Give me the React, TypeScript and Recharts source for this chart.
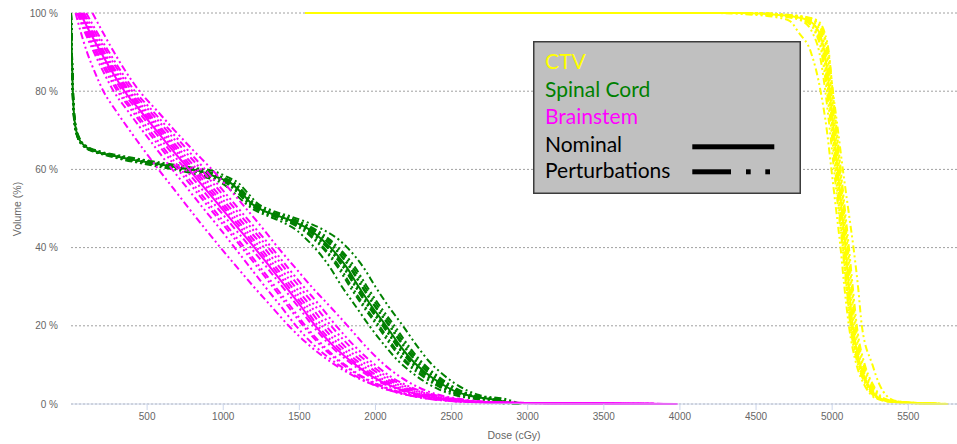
import React from 'react';
import { LineChart, Line, XAxis, YAxis, CartesianGrid, Legend, Label } from 'recharts';

// ---------- axis ticks ----------
const DOSE_TICKS = [500, 1000, 1500, 2000, 2500, 3000, 3500, 4000, 4500, 5000, 5500];
const VOLUME_TICKS = [0, 20, 40, 60, 80, 100];

// ---------- CTV (dose in cGy at each volume level, %) ----------
const CTV_VOLUME = [100, 100, 99.5, 99, 98, 95, 90, 80, 70, 60, 50, 40, 30, 20, 10, 5, 2, 1, 0.5, 0.2, 0];
const CTV_NOMINAL = [1541, 4400, 4650, 4760, 4850, 4915, 4950, 4983, 5010, 5036, 5062, 5088, 5110, 5135, 5185, 5235, 5290, 5340, 5420, 5560, 5740];
const CTV_PERT_1 = [1541, 4200, 4500, 4620, 4720, 4780, 4860, 4924, 4965, 4995, 5025, 5055, 5080, 5110, 5160, 5210, 5265, 5320, 5400, 5540, 5700];
const CTV_PERT_2 = [1541, 4350, 4600, 4720, 4820, 4890, 4930, 4965, 4995, 5020, 5045, 5070, 5095, 5120, 5170, 5220, 5275, 5330, 5410, 5550, 5720];
const CTV_PERT_3 = [1541, 4450, 4690, 4800, 4880, 4935, 4965, 4995, 5022, 5048, 5075, 5100, 5125, 5150, 5200, 5250, 5305, 5355, 5440, 5580, 5750];
const CTV_PERT_4 = [1541, 4480, 4720, 4830, 4905, 4950, 4978, 5003, 5030, 5056, 5083, 5110, 5135, 5162, 5215, 5268, 5320, 5370, 5460, 5600, 5760];
const CTV_PERT_5 = [1541, 4420, 4680, 4800, 4885, 4940, 4975, 5005, 5038, 5070, 5105, 5140, 5170, 5195, 5265, 5310, 5360, 5400, 5480, 5620, 5770];
const CTV_PERT_6 = [1541, 4300, 4580, 4700, 4800, 4870, 4915, 4955, 4985, 5012, 5040, 5068, 5092, 5122, 5175, 5230, 5290, 5345, 5430, 5570, 5730];
const CTV_PERT_7 = [1541, 4380, 4630, 4750, 4840, 4905, 4945, 4975, 5005, 5030, 5056, 5082, 5105, 5130, 5180, 5232, 5288, 5340, 5425, 5565, 5745];
const CTV_PERT_8 = [1541, 4420, 4670, 4780, 4865, 4925, 4958, 4990, 5017, 5043, 5069, 5095, 5118, 5143, 5193, 5243, 5298, 5348, 5430, 5570, 5745];
const CTV_PERT_9 = [1541, 4390, 4640, 4750, 4842, 4908, 4942, 4976, 5003, 5028, 5054, 5080, 5102, 5127, 5177, 5228, 5283, 5335, 5415, 5555, 5735];
const CTV_PERT_10 = [1541, 4460, 4700, 4812, 4892, 4942, 4970, 4998, 5026, 5052, 5079, 5105, 5130, 5156, 5208, 5260, 5312, 5362, 5450, 5590, 5755];
const CTV_PERT_11 = [1541, 4340, 4610, 4730, 4828, 4895, 4935, 4970, 5000, 5025, 5050, 5076, 5100, 5126, 5178, 5230, 5285, 5338, 5420, 5560, 5730];

// ---------- Spinal Cord ----------
const CORD_VOLUME = [100, 90, 80, 72, 68, 66, 64.5, 63.5, 62.5, 61.5, 60.5, 59.5, 58, 56.5, 54, 51.5, 49.5, 48, 46.5, 44.5, 42, 40, 35, 30, 25, 20, 15, 11, 8, 5.3, 3.5, 2.3, 1, 0.3, 0];
const CORD_NOMINAL = [0, 5, 12, 25, 50, 90, 170, 280, 400, 550, 700, 850, 960, 1050, 1120, 1180, 1260, 1370, 1470, 1570, 1650, 1705, 1810, 1890, 1975, 2070, 2160, 2245, 2330, 2428, 2510, 2600, 2800, 2880, 2930];
const CORD_PERT_1 = [0, 4, 10, 22, 45, 80, 150, 240, 340, 470, 600, 740, 880, 990, 1070, 1140, 1210, 1300, 1390, 1480, 1550, 1600, 1700, 1780, 1870, 1960, 2060, 2150, 2240, 2340, 2430, 2520, 2700, 2800, 2860];
const CORD_PERT_2 = [0, 5, 11, 24, 48, 85, 160, 265, 380, 520, 660, 810, 930, 1030, 1100, 1165, 1240, 1340, 1440, 1535, 1610, 1660, 1765, 1845, 1930, 2025, 2115, 2200, 2290, 2390, 2475, 2570, 2770, 2860, 2910];
const CORD_PERT_3 = [0, 6, 13, 26, 52, 95, 180, 300, 430, 580, 740, 890, 990, 1070, 1135, 1195, 1285, 1400, 1500, 1600, 1690, 1745, 1850, 1930, 2015, 2110, 2200, 2285, 2370, 2465, 2545, 2630, 2830, 2900, 2940];
const CORD_PERT_4 = [0, 6, 14, 28, 56, 100, 200, 330, 470, 630, 790, 940, 1030, 1100, 1160, 1220, 1320, 1440, 1550, 1660, 1760, 1815, 1920, 2000, 2085, 2180, 2270, 2350, 2430, 2520, 2600, 2680, 2880, 2930, 2960];
const CORD_PERT_5 = [0, 5, 12, 25, 50, 92, 175, 290, 410, 565, 720, 870, 975, 1060, 1125, 1185, 1270, 1385, 1480, 1585, 1670, 1725, 1830, 1910, 1995, 2090, 2180, 2265, 2350, 2445, 2525, 2615, 2815, 2890, 2935];
const CORD_PERT_6 = [0, 5, 12, 24, 49, 88, 165, 270, 390, 535, 680, 830, 945, 1040, 1110, 1170, 1250, 1355, 1455, 1555, 1630, 1685, 1790, 1870, 1955, 2050, 2140, 2225, 2315, 2410, 2495, 2585, 2785, 2870, 2920];
const CORD_PERT_7 = [0, 4, 11, 23, 47, 86, 165, 275, 395, 540, 690, 840, 955, 1045, 1115, 1175, 1255, 1365, 1465, 1560, 1640, 1695, 1800, 1880, 1965, 2060, 2150, 2235, 2320, 2420, 2500, 2590, 2790, 2875, 2925];
const CORD_PERT_8 = [0, 5, 12, 25, 51, 91, 172, 285, 410, 560, 712, 862, 970, 1058, 1128, 1188, 1270, 1382, 1485, 1588, 1672, 1728, 1835, 1915, 2000, 2095, 2185, 2268, 2352, 2448, 2528, 2615, 2812, 2888, 2935];
const CORD_PERT_9 = [0, 5, 12, 24, 49, 88, 166, 272, 392, 540, 690, 840, 950, 1042, 1112, 1172, 1250, 1358, 1456, 1552, 1630, 1684, 1788, 1868, 1952, 2048, 2138, 2222, 2308, 2408, 2492, 2585, 2788, 2872, 2922];
const CORD_PERT_10 = [0, 6, 13, 26, 53, 96, 185, 305, 435, 588, 745, 895, 995, 1075, 1140, 1200, 1290, 1408, 1510, 1612, 1702, 1758, 1865, 1945, 2030, 2125, 2215, 2298, 2382, 2475, 2555, 2640, 2840, 2905, 2945];
const CORD_PERT_11 = [0, 4, 11, 23, 46, 84, 158, 258, 372, 508, 650, 800, 920, 1020, 1095, 1158, 1232, 1330, 1428, 1522, 1598, 1650, 1752, 1832, 1918, 2012, 2102, 2188, 2278, 2378, 2465, 2560, 2760, 2855, 2905];

// ---------- Brainstem ----------
const STEM_VOLUME = [100, 95, 90, 85, 80, 75, 70, 65, 60, 55, 50, 45, 40, 35, 30, 25, 20, 15, 10, 7, 4.5, 2.5, 1.5, 0.8, 0.4, 0.2, 0.1, 0];
const STEM_NOMINAL = [60, 125, 195, 270, 352, 455, 560, 665, 775, 882, 990, 1098, 1205, 1308, 1410, 1510, 1605, 1720, 1870, 1980, 2110, 2270, 2400, 2550, 2750, 3100, 3500, 3980];
const STEM_PERT_1 = [30, 65, 105, 155, 213, 295, 385, 478, 575, 675, 775, 877, 982, 1090, 1200, 1315, 1430, 1565, 1735, 1865, 2015, 2185, 2325, 2485, 2695, 3000, 3300, 3600];
const STEM_PERT_2 = [141, 210, 282, 360, 450, 565, 680, 800, 925, 1040, 1150, 1258, 1360, 1470, 1580, 1700, 1817, 1930, 2060, 2160, 2270, 2400, 2520, 2650, 2850, 3200, 3600, 3985];
const STEM_PERT_3 = [50, 108, 172, 243, 318, 415, 515, 618, 722, 828, 932, 1036, 1140, 1242, 1342, 1442, 1540, 1655, 1800, 1915, 2050, 2210, 2350, 2510, 2720, 3050, 3450, 3900];
const STEM_PERT_4 = [75, 145, 218, 298, 385, 495, 605, 715, 828, 938, 1048, 1158, 1268, 1370, 1472, 1575, 1675, 1792, 1942, 2050, 2175, 2330, 2460, 2600, 2800, 3150, 3550, 3960];
const STEM_PERT_5 = [40, 92, 150, 212, 280, 372, 468, 566, 665, 768, 870, 975, 1075, 1175, 1275, 1378, 1478, 1598, 1758, 1878, 2018, 2188, 2320, 2480, 2690, 3000, 3400, 3850];
const STEM_PERT_6 = [100, 172, 250, 330, 420, 535, 650, 765, 880, 990, 1100, 1210, 1318, 1422, 1528, 1638, 1742, 1858, 1998, 2100, 2220, 2370, 2490, 2620, 2820, 3180, 3580, 3970];
const STEM_PERT_7 = [65, 133, 203, 280, 362, 468, 575, 682, 792, 900, 1008, 1116, 1222, 1326, 1428, 1528, 1622, 1740, 1888, 1998, 2128, 2288, 2420, 2570, 2770, 3120, 3520, 3975];
const STEM_PERT_8 = [55, 118, 185, 258, 338, 438, 542, 645, 752, 858, 965, 1072, 1180, 1285, 1388, 1490, 1588, 1702, 1852, 1962, 2092, 2252, 2385, 2535, 2740, 3080, 3480, 3950];
const STEM_PERT_9 = [70, 138, 210, 290, 375, 482, 590, 698, 808, 918, 1026, 1135, 1242, 1345, 1448, 1550, 1648, 1765, 1912, 2020, 2150, 2308, 2440, 2590, 2790, 3140, 3540, 3970];
const STEM_PERT_10 = [45, 100, 162, 230, 305, 400, 498, 600, 702, 808, 912, 1018, 1122, 1225, 1325, 1425, 1525, 1640, 1790, 1905, 2040, 2200, 2340, 2500, 2710, 3040, 3440, 3880];
const STEM_PERT_11 = [85, 158, 235, 315, 402, 515, 628, 740, 855, 965, 1075, 1185, 1295, 1398, 1500, 1605, 1708, 1825, 1970, 2075, 2200, 2350, 2475, 2610, 2810, 3160, 3560, 3965];

const CTV_COLOR = '#ffff00';
const CORD_COLOR = '#008000';
const STEM_COLOR = '#ff00ff';
const PERT_DASH = '7 3 2 3 2 3';

const toPoints = (doses: number[], vols: number[]) => doses.map((d, i) => ({ dose: d, vol: vols[i] }));

type Series = { id: string; color: string; dashed: boolean; data: { dose: number; vol: number }[] };

const group = (prefix: string, color: string, vols: number[], nominal: number[], perts: number[][]): Series[] => [
  { id: `${prefix}-nominal`, color, dashed: false, data: toPoints(nominal, vols) },
  ...perts.map((p, i) => ({ id: `${prefix}-pert-${i + 1}`, color, dashed: true, data: toPoints(p, vols) })),
];

const SERIES: Series[] = [
  ...group('ctv', CTV_COLOR, CTV_VOLUME, CTV_NOMINAL, [
    CTV_PERT_1, CTV_PERT_2, CTV_PERT_3, CTV_PERT_4, CTV_PERT_5, CTV_PERT_6,
    CTV_PERT_7, CTV_PERT_8, CTV_PERT_9, CTV_PERT_10, CTV_PERT_11,
  ]),
  ...group('cord', CORD_COLOR, CORD_VOLUME, CORD_NOMINAL, [
    CORD_PERT_1, CORD_PERT_2, CORD_PERT_3, CORD_PERT_4, CORD_PERT_5, CORD_PERT_6,
    CORD_PERT_7, CORD_PERT_8, CORD_PERT_9, CORD_PERT_10, CORD_PERT_11,
  ]),
  ...group('stem', STEM_COLOR, STEM_VOLUME, STEM_NOMINAL, [
    STEM_PERT_1, STEM_PERT_2, STEM_PERT_3, STEM_PERT_4, STEM_PERT_5, STEM_PERT_6,
    STEM_PERT_7, STEM_PERT_8, STEM_PERT_9, STEM_PERT_10, STEM_PERT_11,
  ]),
];

const LEGEND_ITEMS = [
  { label: 'CTV', color: CTV_COLOR },
  { label: 'Spinal Cord', color: CORD_COLOR },
  { label: 'Brainstem', color: STEM_COLOR },
  { label: 'Nominal', color: '#000000' },
  { label: 'Perturbations', color: '#000000' },
];

const LegendBox = () => {
  const baselines = [28.3, 55.7, 83.3, 110.7, 137.3];
  return (
    <svg width={268} height={153} style={{ display: 'block' }}>
      <rect x={0.75} y={0.75} width={266.5} height={151.5} fill="#c0c0c0" stroke="#3c3c3c" strokeWidth={1.5} />
      {LEGEND_ITEMS.map((it, i) => (
        <text key={it.label} x={12} y={baselines[i]} fill={it.color} fontSize={21} fontFamily="Lato, 'Open Sans', sans-serif">
          {it.label}
        </text>
      ))}
      <rect x={159.3} y={103.3} width={82} height={5} fill="#000" />
      <rect x={159.3} y={128.3} width={38.7} height={5} fill="#000" />
      <rect x={213} y={128.3} width={4.7} height={5} fill="#000" />
      <rect x={232.3} y={128.3} width={4.7} height={5} fill="#000" />
    </svg>
  );
};

export default function App() {
  return (
    <div style={{ position: 'absolute', left: 0, top: 0, width: 957, height: 444, background: '#fff' }}>
      <LineChart
        width={957}
        height={444}
        margin={{ top: 13, right: 0, bottom: 0, left: 0 }}
        style={{ fontFamily: "'Liberation Sans', Arial, sans-serif" }}
      >
        <CartesianGrid vertical={false} stroke="#a0a0a0" strokeDasharray="2 2" />
        <XAxis
          type="number"
          dataKey="dose"
          domain={[0, 5820]}
          ticks={DOSE_TICKS}
          allowDataOverflow
          height={40}
          stroke="#ccd6eb"
          tickSize={6}
          tickMargin={3}
          tick={{ fill: '#666', fontSize: 10 }}
        >
          <Label
            content={() => (
              <text x={514} y={439} textAnchor="middle" fill="#666" fontSize={10.5}>
                Dose (cGy)
              </text>
            )}
          />
        </XAxis>
        <YAxis
          type="number"
          dataKey="vol"
          domain={[0, 100]}
          ticks={VOLUME_TICKS}
          width={71}
          axisLine={false}
          tickLine={false}
          tickSize={6}
          tickMargin={7}
          tick={{ fill: '#666', fontSize: 10 }}
          tickFormatter={(v: number) => `${v} %`}
        >
          <Label
            content={() => (
              <text x={16.5} y={209} transform="rotate(-90 16.5 209)" textAnchor="middle" dominantBaseline="central" fill="#666" fontSize={10.5}>
                Volume (%)
              </text>
            )}
          />
        </YAxis>
        {SERIES.map((s) => (
          <Line
            key={s.id}
            name={s.id}
            data={s.data}
            dataKey="vol"
            type="monotone"
            stroke={s.color}
            strokeWidth={2}
            strokeDasharray={s.dashed ? PERT_DASH : undefined}
            dot={false}
            activeDot={false}
            isAnimationActive={false}
            legendType="none"
          />
        ))}
        <Legend
          layout="vertical"
          align="center"
          verticalAlign="middle"
          wrapperStyle={{ position: 'absolute', left: 533, top: 41, width: 268, height: 153 }}
          content={() => <LegendBox />}
        />
      </LineChart>
    </div>
  );
}
